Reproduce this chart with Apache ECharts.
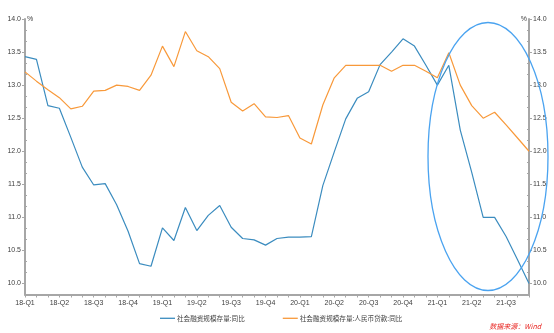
<!DOCTYPE html>
<html><head><meta charset="utf-8">
<script src="https://cdn.jsdelivr.net/npm/echarts@6/dist/echarts.min.js"></script>
<style>html,body{margin:0;padding:0;background:#fff}#c{width:554px;height:333px}</style>
</head><body><div id="c"></div>
<script>
const months = [
  '2018-01','2018-02','2018-03','2018-04','2018-05','2018-06','2018-07','2018-08','2018-09','2018-10','2018-11','2018-12',
  '2019-01','2019-02','2019-03','2019-04','2019-05','2019-06','2019-07','2019-08','2019-09','2019-10','2019-11','2019-12',
  '2020-01','2020-02','2020-03','2020-04','2020-05','2020-06','2020-07','2020-08','2020-09','2020-10','2020-11','2020-12',
  '2021-01','2021-02','2021-03','2021-04','2021-05','2021-06','2021-07','2021-08','2021-09'
];
const tsfGrowth = [
  13.43,13.39,12.69,12.65,12.21,11.76,11.49,11.51,11.19,10.79,10.30,10.26,
  10.84,10.65,11.15,10.80,11.03,11.18,10.85,10.68,10.66,10.58,10.68,10.70,
  10.70,10.71,11.48,11.99,12.49,12.80,12.90,13.31,13.50,13.70,13.59,13.30,
  13.00,13.30,12.32,11.68,11.00,11.00,10.71,10.36,10.00
];
const loanGrowth = [
  13.20,13.06,12.93,12.81,12.64,12.68,12.91,12.92,13.00,12.98,12.92,13.15,
  13.59,13.28,13.81,13.52,13.43,13.25,12.74,12.61,12.72,12.52,12.51,12.54,
  12.20,12.11,12.70,13.11,13.30,13.30,13.30,13.30,13.21,13.30,13.30,13.21,
  13.11,13.49,13.00,12.69,12.50,12.59,12.40,12.20,12.00
];
const seriesNames = ['社会融资规模存量:同比', '社会融资规模存量:人民币贷款:同比'];
const yMajorTicks = [10, 10.5, 11, 11.5, 12, 12.5, 13, 13.5, 14];
const sourceText = '数据来源：Wind';

const Y_MIN = 59 / 6, Y_MAX = 14;
const yMinorTicks = [];
for (let k = 59; k <= 84; k++) { if (k % 3 !== 0) yMinorTicks.push(k / 6); }

const axisGray = '#a6a6a6';
const labelColor = '#404040';
const font = 'Liberation Sans';
const blue = '#3b8cbf', orange = '#f8993a';

function majorY(pos) {
  return {
    type: 'value', gridIndex: 0, position: pos, min: Y_MIN, max: Y_MAX,
    axisLine: { show: true, lineStyle: { color: axisGray, width: 2 } },
    axisTick: { show: true, customValues: yMajorTicks, length: 3, lineStyle: { color: axisGray } },
    axisLabel: { customValues: yMajorTicks, formatter: v => Number(v).toFixed(1), fontSize: 7, color: labelColor, margin: 4, fontFamily: font },
    splitLine: { show: false },
    name: '%', nameLocation: 'end', nameGap: 0,
    nameTextStyle: { fontSize: 7, color: labelColor, fontFamily: font, align: pos === 'left' ? 'left' : 'right', verticalAlign: 'middle', padding: pos === 'left' ? [0,0,0,2] : [0,2,0,0] }
  };
}
function minorY(pos) {
  return {
    type: 'value', gridIndex: 1, position: pos, min: Y_MIN, max: Y_MAX,
    axisLine: { show: false },
    axisTick: { show: true, inside: true, customValues: yMinorTicks, length: 2, lineStyle: { color: axisGray } },
    axisLabel: { show: false },
    splitLine: { show: false }
  };
}

const chart = echarts.init(document.getElementById('c'), null, { renderer: 'canvas' });
chart.setOption({
  animation: false,
  backgroundColor: '#fff',
  grid: [
    { left: 25, right: 25, top: 19, bottom: 38.5 },
    { left: 25, right: 25, top: 19, bottom: 38.5 }
  ],
  xAxis: [{
    type: 'category', gridIndex: 0, data: months, boundaryGap: false,
    axisLine: { onZero: false, lineStyle: { color: axisGray, width: 2 } },
    axisTick: { interval: 0, length: 3, lineStyle: { color: axisGray } },
    axisLabel: {
      interval: 2, fontSize: 7, color: labelColor, margin: 5, fontFamily: font,
      formatter: v => v.slice(2, 4) + '-Q' + (Math.floor((parseInt(v.slice(5), 10) - 1) / 3) + 1)
    },
    splitLine: { show: false }
  }, {
    type: 'category', gridIndex: 1, data: months, show: false
  }],
  yAxis: [majorY('left'), majorY('right'), minorY('left'), minorY('right')],
  legend: {
    left: 155, top: 310, icon: 'rect', itemWidth: 15, itemHeight: 1.3, itemGap: 38,
    textStyle: { fontSize: 6.6, color: labelColor, fontFamily: 'Noto Sans CJK SC', padding: [0, 0, 0, -3] },
    data: seriesNames
  },
  series: [
    { name: seriesNames[0], type: 'line', data: tsfGrowth, xAxisIndex: 0, yAxisIndex: 0,
      symbol: 'none', lineStyle: { color: blue, width: 1.2 }, itemStyle: { color: blue } },
    { name: seriesNames[1], type: 'line', data: loanGrowth, xAxisIndex: 0, yAxisIndex: 0,
      symbol: 'none', lineStyle: { color: orange, width: 1.2 }, itemStyle: { color: orange } }
  ],
  graphic: [
    { type: 'ellipse', shape: { cx: 488, cy: 156.5, rx: 60, ry: 134 },
      style: { fill: 'none', stroke: '#4aa3f0', lineWidth: 1.3 }, z: 100 },
    { type: 'text', right: 13, top: 323,
      style: { text: sourceText, fill: '#e8231f', fontSize: 7, fontStyle: 'italic', fontFamily: 'Noto Sans CJK SC' } }
  ]
});
</script>
</body></html>
